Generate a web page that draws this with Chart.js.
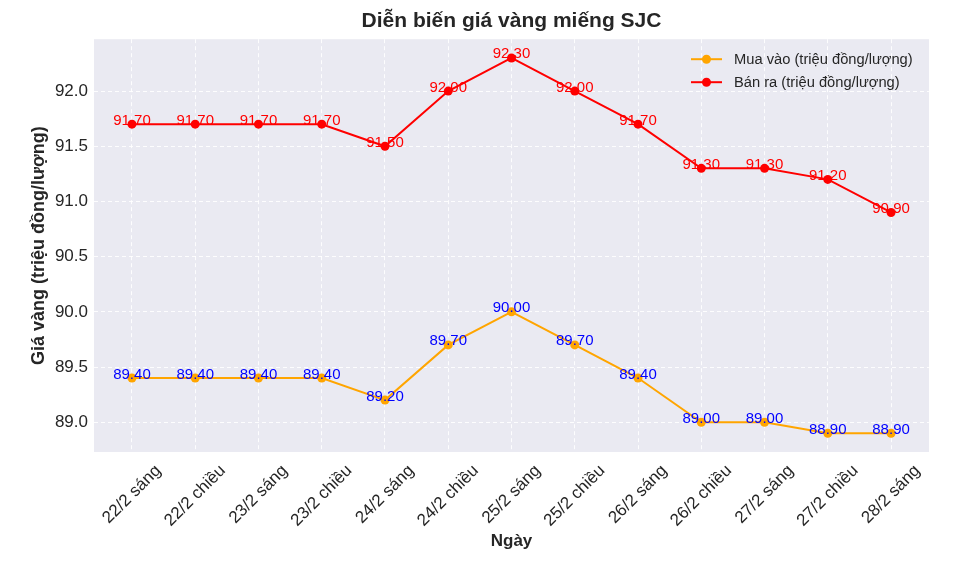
<!DOCTYPE html>
<html>
<head>
<meta charset="utf-8">
<script src="https://cdn.jsdelivr.net/npm/chart.js@4.4.1/dist/chart.umd.min.js"></script>
<style>
  html, body { margin: 0; padding: 0; background: #fff; }
  #wrap { width: 956px; height: 571px; }
</style>
</head>
<body>
<div id="wrap"><canvas id="chart"></canvas></div>
<script>
const labels = ['22/2 sáng', '22/2 chiều', '23/2 sáng', '23/2 chiều', '24/2 sáng', '24/2 chiều',
  '25/2 sáng', '25/2 chiều', '26/2 sáng', '26/2 chiều', '27/2 sáng', '27/2 chiều', '28/2 sáng'];
const muaVao = [89.40, 89.40, 89.40, 89.40, 89.20, 89.70, 90.00, 89.70, 89.40, 89.00, 89.00, 88.90, 88.90];
const banRa = [91.70, 91.70, 91.70, 91.70, 91.50, 92.00, 92.30, 92.00, 91.70, 91.30, 91.30, 91.20, 90.90];
const yTicks = [89.0, 89.5, 90.0, 90.5, 91.0, 91.5, 92.0];

const FONT = '"Liberation Sans", Arial, sans-serif';
const TXT = '#262626';

const toPoints = arr => arr.map((v, i) => ({ x: i, y: v }));

// plot background
const bgPlugin = {
  id: 'bg',
  beforeDraw(chart) {
    const { ctx, chartArea: a } = chart;
    ctx.save();
    ctx.fillStyle = '#EAEAF2';
    ctx.fillRect(a.left, a.top, a.right - a.left, a.bottom - a.top);
    ctx.restore();
  }
};

// value labels, rotated x labels, legend
const textPlugin = {
  id: 'texts',
  afterDatasetsDraw(chart) {
    const { ctx, chartArea: a } = chart;
    const xs = chart.scales.x;
    ctx.save();
    ctx.font = '15px ' + FONT;
    ctx.textAlign = 'center';
    ctx.textBaseline = 'alphabetic';
    const colors = ['#0000FF', '#FF0000'];
    chart.data.datasets.forEach((ds, di) => {
      const meta = chart.getDatasetMeta(di);
      ctx.fillStyle = colors[di];
      meta.data.forEach((pt, i) => {
        ctx.fillText(ds.data[i].y.toFixed(2), pt.x, pt.y + 0.5);
      });
    });

    // x tick labels, rotated 45 deg, centred on tick like matplotlib
    ctx.fillStyle = TXT;
    ctx.font = '17px ' + FONT;
    ctx.textBaseline = 'middle';
    labels.forEach((lab, i) => {
      const x = xs.getPixelForValue(i);
      const w = ctx.measureText(lab).width;
      const h = 17;
      const cy = a.bottom + 10 + (w + h) * 0.3535;
      ctx.save();
      ctx.translate(x, cy);
      ctx.rotate(-Math.PI / 4);
      ctx.fillText(lab, 0, 0);
      ctx.restore();
    });

    // legend
    const items = [
      { text: 'Mua vào (triệu đồng/lượng)', color: '#FFA500' },
      { text: 'Bán ra (triệu đồng/lượng)', color: '#FF0000' }
    ];
    ctx.font = '14.7px ' + FONT;
    ctx.textAlign = 'left';
    items.forEach((it, k) => {
      const y = a.top + 20 + k * 23;
      const x0 = a.right - 238;
      ctx.strokeStyle = it.color;
      ctx.lineWidth = 2;
      ctx.beginPath();
      ctx.moveTo(x0, y);
      ctx.lineTo(x0 + 31, y);
      ctx.stroke();
      ctx.fillStyle = it.color;
      ctx.beginPath();
      ctx.arc(x0 + 15.5, y, 4.5, 0, Math.PI * 2);
      ctx.fill();
      ctx.fillStyle = TXT;
      ctx.fillText(it.text, x0 + 43, y + 1);
    });
    ctx.restore();
  }
};

const chart = new Chart(document.getElementById('chart'), {
  type: 'line',
  data: {
    datasets: [
      {
        label: 'Mua vào (triệu đồng/lượng)',
        data: toPoints(muaVao),
        borderColor: '#FFA500',
        backgroundColor: '#FFA500',
        borderWidth: 2,
        pointRadius: 4.5,
        pointBorderWidth: 0,
        tension: 0
      },
      {
        label: 'Bán ra (triệu đồng/lượng)',
        data: toPoints(banRa),
        borderColor: '#FF0000',
        backgroundColor: '#FF0000',
        borderWidth: 2,
        pointRadius: 4.5,
        pointBorderWidth: 0,
        tension: 0
      }
    ]
  },
  options: {
    responsive: true,
    maintainAspectRatio: false,
    animation: false,
    layout: { padding: { left: 0, right: 27, top: 0, bottom: 0 } },
    plugins: {
      legend: { display: false },
      tooltip: { enabled: false },
      title: {
        display: true,
        text: 'Diễn biến giá vàng miếng SJC',
        fullSize: false,
        color: TXT,
        font: { family: FONT, size: 21, weight: 'bold', lineHeight: 1.2 },
        padding: { top: 9, bottom: 5 }
      }
    },
    scales: {
      x: {
        type: 'linear',
        min: -0.6,
        max: 12.6,
        afterBuildTicks: s => { s.ticks = labels.map((_, i) => ({ value: i })); },
        afterFit: s => { s.height = 119; },
        ticks: { display: false },
        grid: { color: 'rgba(255,255,255,0.9)', lineWidth: 1, drawTicks: false },
        border: { display: false, dash: [4, 3] },
        title: {
          display: true,
          text: 'Ngày',
          color: TXT,
          font: { family: FONT, size: 17, weight: 'bold', lineHeight: 1.2 },
          padding: { top: 0, bottom: 19 }
        }
      },
      y: {
        type: 'linear',
        min: 88.73,
        max: 92.47,
        afterBuildTicks: s => { s.ticks = yTicks.map(v => ({ value: v })); },
        afterFit: s => { s.width = 94; },
        ticks: {
          color: TXT,
          padding: 6,
          font: { family: FONT, size: 17 },
          callback: v => Number(v).toFixed(1)
        },
        grid: { color: 'rgba(255,255,255,0.9)', lineWidth: 1, drawTicks: false },
        border: { display: false, dash: [4, 3] },
        title: {
          display: true,
          text: 'Giá vàng (triệu đồng/lượng)',
          color: TXT,
          font: { family: FONT, size: 18, weight: 'bold', lineHeight: 1.2 },
          padding: { top: 28, bottom: 0 }
        }
      }
    }
  },
  plugins: [bgPlugin, textPlugin]
});
</script>
</body>
</html>
